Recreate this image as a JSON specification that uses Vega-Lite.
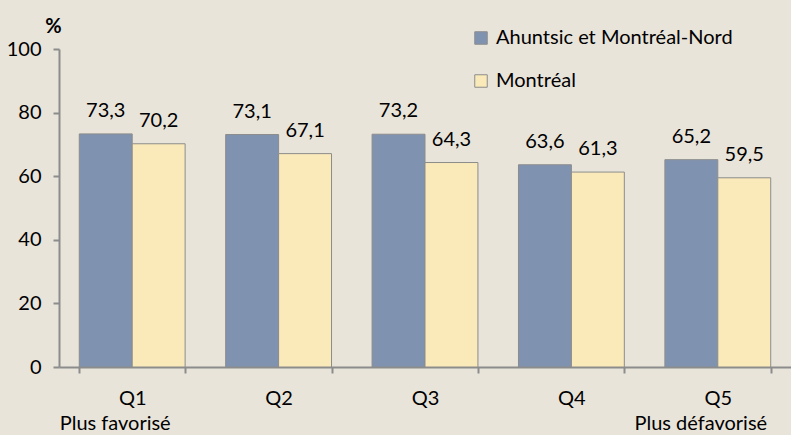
{
  "$schema": "https://vega.github.io/schema/vega-lite/v6.json",
  "width": 732,
  "height": 318,
  "autosize": {"type": "none"},
  "padding": {"left": 59, "top": 49, "right": 0, "bottom": 68},
  "background": "#E8E4DA",
  "config": {
    "view": {"stroke": null},
    "font": "Lato",
    "locale": {"number": {"decimal": ",", "thousands": " ", "grouping": [3], "currency": ["", "$"]}}
  },
  "encoding": {
    "x": {
      "field": "q",
      "type": "nominal",
      "sort": ["Q1", "Q2", "Q3", "Q4", "Q5"],
      "scale": {"paddingInner": 0.277, "paddingOuter": 0.1385},
      "axis": {
        "title": null,
        "labelAngle": 0,
        "labelFontSize": 20,
        "labelColor": "#000000",
        "labelPadding": 15,
        "domainColor": "#8C8C8C",
        "domainWidth": 2,
        "tickColor": "#8C8C8C",
        "tickWidth": 2,
        "tickSize": 6,
        "tickBand": "extent"
      }
    }
  },
  "layer": [
    {
      "data": {
        "values": [
          {"q": "Q1", "serie": "Ahuntsic et Montréal-Nord", "v": 73.3},
          {"q": "Q1", "serie": "Montréal", "v": 70.2},
          {"q": "Q2", "serie": "Ahuntsic et Montréal-Nord", "v": 73.1},
          {"q": "Q2", "serie": "Montréal", "v": 67.1},
          {"q": "Q3", "serie": "Ahuntsic et Montréal-Nord", "v": 73.2},
          {"q": "Q3", "serie": "Montréal", "v": 64.3},
          {"q": "Q4", "serie": "Ahuntsic et Montréal-Nord", "v": 63.6},
          {"q": "Q4", "serie": "Montréal", "v": 61.3},
          {"q": "Q5", "serie": "Ahuntsic et Montréal-Nord", "v": 65.2},
          {"q": "Q5", "serie": "Montréal", "v": 59.5}
        ]
      },
      "layer": [
        {
          "mark": {"type": "bar", "stroke": "#8C8C8C", "strokeWidth": 1},
          "encoding": {
            "xOffset": {"field": "serie", "type": "nominal", "sort": ["Ahuntsic et Montréal-Nord", "Montréal"], "scale": {"paddingInner": 0, "paddingOuter": 0}},
            "y": {
              "field": "v",
              "type": "quantitative",
              "scale": {"domain": [0, 100]},
              "axis": {
                "values": [0, 20, 40, 60, 80, 100],
                "grid": false,
                "labelFontSize": 20,
                "labelColor": "#000000",
                "labelPadding": 12,
                "domainColor": "#8C8C8C",
                "domainWidth": 2,
                "tickColor": "#8C8C8C",
                "tickWidth": 2,
                "tickSize": 6,
                "title": "%",
                "titleAngle": 0,
                "titleFontSize": 20,
                "titleFontWeight": "bold",
                "titleColor": "#000000",
                "titleX": -6,
                "titleY": -23,
                "titleAlign": "center",
                "titleBaseline": "middle"
              }
            },
            "color": {
              "field": "serie",
              "type": "nominal",
              "scale": {"domain": ["Ahuntsic et Montréal-Nord", "Montréal"], "range": ["#7F93B0", "#FAEAB9"]},
              "legend": {
                "title": null,
                "orient": "none",
                "legendX": 412,
                "legendY": -21,
                "symbolType": "square",
                "symbolSize": 156,
                "symbolStrokeColor": "#8C8C8C",
                "symbolStrokeWidth": 1,
                "symbolOpacity": 1,
                "labelFontSize": 20,
                "labelLimit": 0,
                "labelColor": "#000000",
                "labelOffset": 5,
                "rowPadding": 23
              }
            }
          }
        },
        {
          "mark": {"type": "text", "fontSize": 20, "baseline": "alphabetic", "dy": -17, "color": "#000000"},
          "encoding": {
            "xOffset": {"field": "serie", "type": "nominal", "sort": ["Ahuntsic et Montréal-Nord", "Montréal"]},
            "y": {"field": "v", "type": "quantitative"},
            "text": {"field": "v", "type": "quantitative", "format": ".1f"}
          }
        }
      ]
    },
    {
      "data": {"values": [{"q": "Q1", "sub": "Plus favorisé"}, {"q": "Q5", "sub": "Plus défavorisé"}]},
      "mark": {"type": "text", "fontSize": 20, "baseline": "alphabetic", "dx": -17, "dy": 63, "color": "#000000"},
      "encoding": {
        "y": {"datum": 0, "type": "quantitative"},
        "text": {"field": "sub", "type": "nominal"}
      }
    }
  ]
}
